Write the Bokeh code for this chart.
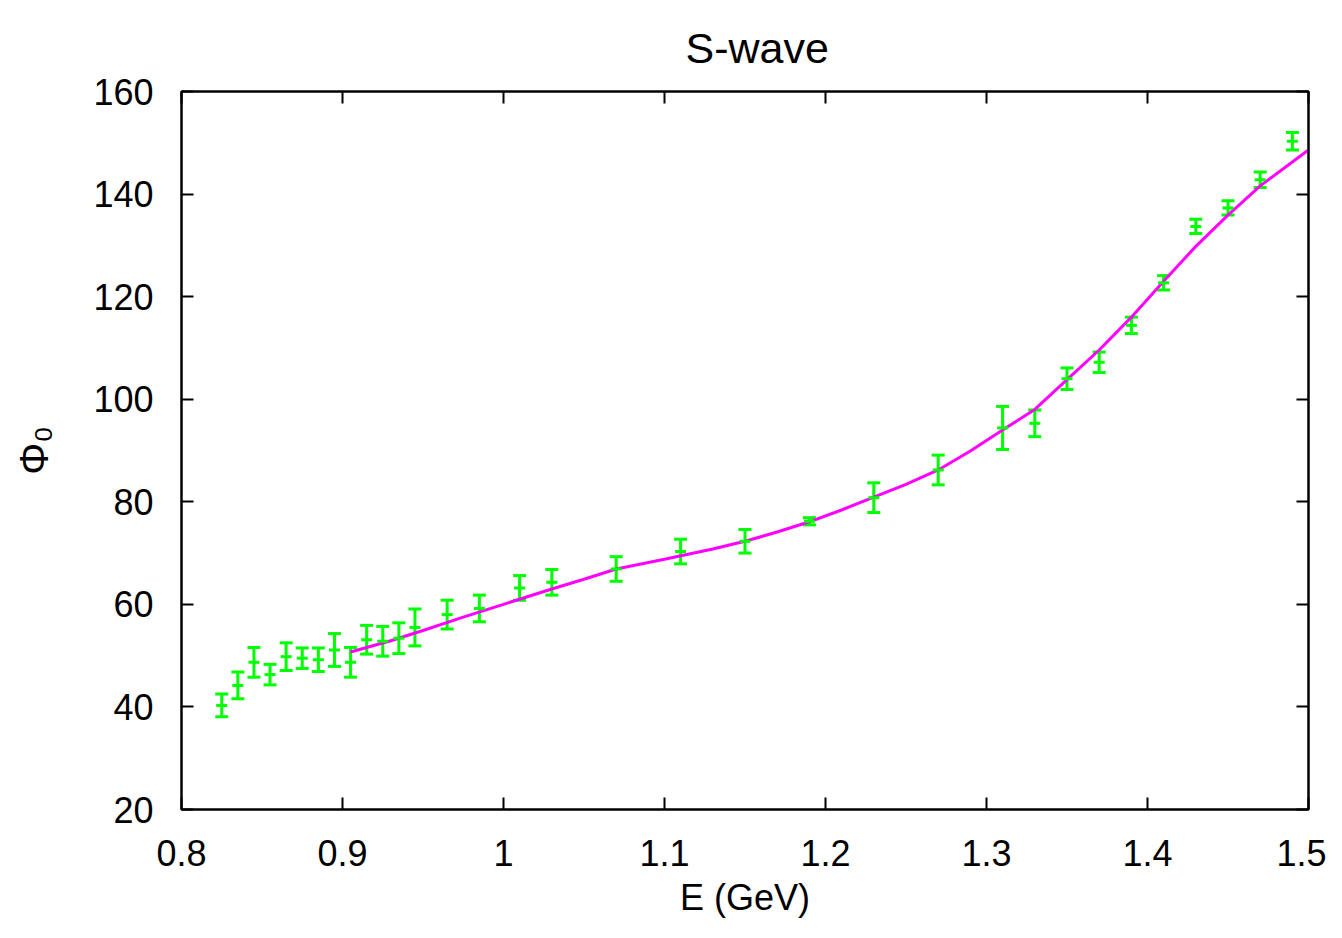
from bokeh.plotting import figure
from bokeh.models import (ColumnDataSource, Whisker, TeeHead, LinearAxis, FixedTicker,
                          CustomJSTickFormatter, Range1d)
from bokeh.embed import file_html
from bokeh.resources import INLINE

# ---- data ----
energy = [0.825, 0.835, 0.845, 0.855, 0.865, 0.875, 0.885, 0.895, 0.905, 0.915, 0.925,
          0.935, 0.945, 0.965, 0.985, 1.01, 1.03, 1.07, 1.11, 1.15, 1.19, 1.23, 1.27,
          1.31, 1.33, 1.35, 1.37, 1.39, 1.41, 1.43, 1.45, 1.47, 1.49]
phase = [40.3, 44.2, 48.7, 46.3, 49.8, 49.5, 49.2, 51.1, 48.7, 53.1, 52.8,
         53.4, 55.5, 58.0, 59.2, 63.2, 64.3, 66.9, 70.3, 72.3, 76.2, 80.8, 86.2,
         94.4, 95.3, 104.0, 107.2, 114.4, 122.7, 133.7, 137.3, 142.8, 150.3]
phase_err = [2.2, 2.6, 2.9, 2.0, 2.7, 2.0, 2.3, 3.2, 2.9, 2.8, 2.9,
             3.0, 3.6, 2.8, 2.6, 2.4, 2.5, 2.4, 2.4, 2.3, 0.7, 2.9, 2.9,
             4.2, 2.6, 2.1, 2.0, 1.6, 1.4, 1.4, 1.4, 1.5, 1.7]

fit_energy = [0.905, 0.93, 0.95, 0.975, 1.0, 1.03, 1.05, 1.07, 1.1, 1.13, 1.15, 1.17,
              1.19, 1.21, 1.23, 1.25, 1.27, 1.29, 1.31, 1.33, 1.35, 1.37, 1.39, 1.41,
              1.43, 1.45, 1.47, 1.5]
fit_phase = [50.7, 52.9, 54.9, 57.5, 60.0, 63.0, 64.9, 66.9, 68.8, 70.8, 72.3, 74.1,
             76.1, 78.4, 80.9, 83.4, 86.2, 89.9, 94.0, 98.0, 103.8, 109.6, 116.0, 123.0,
             129.8, 135.9, 141.6, 148.6]

x_ticks = [0.8, 0.9, 1.0, 1.1, 1.2, 1.3, 1.4, 1.5]
y_ticks = [20, 40, 60, 80, 100, 120, 140, 160]

FONT = "Liberation Sans"
GREEN = "#00ff00"
MAGENTA = "#ff00ff"

src = ColumnDataSource(dict(
    x=energy, y=phase,
    lo=[v - e for v, e in zip(phase, phase_err)],
    hi=[v + e for v, e in zip(phase, phase_err)],
))

p = figure(width=1326, height=922, output_backend="svg", toolbar_location=None,
           x_range=Range1d(0.8, 1.5), y_range=Range1d(20, 160),
           min_border_left=181, min_border_right=18, min_border_top=91, min_border_bottom=113,
           title="S-wave")
p.background_fill_color = "white"
p.border_fill_color = "white"
p.grid.visible = False
p.outline_line_color = "black"
p.outline_line_width = 2

p.title.align = "left"
p.title.offset = 504
p.title.text_font = FONT
p.title.text_font_size = "43px"
p.title.text_font_style = "normal"
p.title.text_color = "black"
p.title.standoff = 40

fmt = CustomJSTickFormatter(code="return tick.toFixed(1).replace(/\\.0$/, '');")
blank = CustomJSTickFormatter(code="return '';")

def style_axis(ax, ticks, show_labels=True):
    ax.ticker = FixedTicker(ticks=ticks)
    ax.major_tick_in = 12
    ax.major_tick_out = 0
    ax.minor_tick_line_color = None
    ax.major_tick_line_width = 2
    ax.major_tick_line_color = "black"
    ax.axis_line_width = 2
    ax.axis_line_color = "black"
    ax.major_label_text_font = FONT
    ax.major_label_text_font_size = "36px"
    ax.major_label_text_color = "black"
    ax.axis_label_text_font = FONT
    ax.axis_label_text_font_size = "36px"
    ax.axis_label_text_font_style = "normal"
    ax.axis_label_text_color = "black"
    if not show_labels:
        ax.formatter = blank
        ax.major_label_standoff = 0

xa = p.xaxis[0]
style_axis(xa, x_ticks)
xa.formatter = fmt
xa.axis_label = "E (GeV)"
xa.major_label_standoff = 30
xa.axis_label_standoff = 8

ya = p.yaxis[0]
style_axis(ya, y_ticks)
ya.axis_label = "Φ₀"
ya.axis_label_text_font_size = "40px"
ya.major_label_standoff = 28
ya.axis_label_standoff = 34

top = LinearAxis()
style_axis(top, x_ticks, show_labels=False)
p.add_layout(top, "above")
right = LinearAxis()
style_axis(right, y_ticks, show_labels=False)
p.add_layout(right, "right")

p.line(fit_energy, fit_phase, line_color=MAGENTA, line_width=3)

p.add_layout(Whisker(source=src, base="x", lower="lo", upper="hi",
                     line_color=GREEN, line_width=3,
                     upper_head=TeeHead(size=13, line_color=GREEN, line_width=3),
                     lower_head=TeeHead(size=13, line_color=GREEN, line_width=3)))
p.scatter("x", "y", source=src, marker="dash", size=11, line_color=GREEN, line_width=3)

open("out.html", "w").write(file_html(p, INLINE))
